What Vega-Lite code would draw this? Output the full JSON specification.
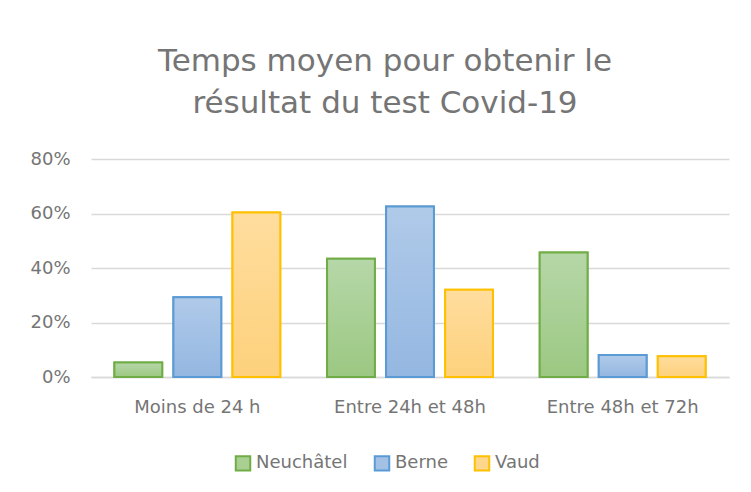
{
  "$schema": "https://vega.github.io/schema/vega-lite/v6.json",
  "autosize": {"type": "none"},
  "width": 638,
  "height": 218,
  "padding": {"left": 91, "top": 159, "right": 22, "bottom": 115},
  "background": "white",
  "title": {
    "text": ["Temps moyen pour obtenir le", "résultat du test Covid-19"],
    "anchor": "middle",
    "frame": "group",
    "dx": -25,
    "offset": 30,
    "font": "DejaVu Sans",
    "fontSize": 31,
    "fontWeight": "normal",
    "color": "#757575",
    "lineHeight": 42
  },
  "data": {
    "values": [
      {"cat": "Moins de 24 h", "canton": "Neuchâtel", "v": 0.053},
      {"cat": "Moins de 24 h", "canton": "Berne", "v": 0.293},
      {"cat": "Moins de 24 h", "canton": "Vaud", "v": 0.604},
      {"cat": "Entre 24h et 48h", "canton": "Neuchâtel", "v": 0.434},
      {"cat": "Entre 24h et 48h", "canton": "Berne", "v": 0.626},
      {"cat": "Entre 24h et 48h", "canton": "Vaud", "v": 0.320},
      {"cat": "Entre 48h et 72h", "canton": "Neuchâtel", "v": 0.457},
      {"cat": "Entre 48h et 72h", "canton": "Berne", "v": 0.081},
      {"cat": "Entre 48h et 72h", "canton": "Vaud", "v": 0.076}
    ]
  },
  "encoding": {
    "x": {
      "field": "cat",
      "type": "nominal",
      "sort": null,
      "scale": {"paddingInner": 0.22, "paddingOuter": 0.11},
      "axis": {
        "title": null,
        "labelAngle": 0,
        "labelFont": "DejaVu Sans",
        "labelFontSize": 18,
        "labelColor": "#757575",
        "labelPadding": 21,
        "ticks": false,
        "domainColor": "#d9d9d9",
        "domainWidth": 1.5
      }
    },
    "xOffset": {
      "field": "canton",
      "type": "nominal",
      "sort": ["Neuchâtel", "Berne", "Vaud"],
      "scale": {"paddingInner": 0.19}
    },
    "y": {
      "field": "v",
      "type": "quantitative",
      "scale": {"domain": [0, 0.8]},
      "axis": {
        "title": null,
        "values": [0, 0.2, 0.4, 0.6, 0.8],
        "format": ".0%",
        "labelFont": "DejaVu Sans",
        "labelFontSize": 18,
        "labelColor": "#757575",
        "labelPadding": 21,
        "ticks": false,
        "domain": false,
        "gridColor": "#d9d9d9",
        "gridWidth": 1.5
      }
    }
  },
  "layer": [
    {
      "mark": {"type": "bar", "strokeWidth": 2},
      "encoding": {
        "fill": {
          "field": "canton",
          "type": "nominal",
          "sort": ["Neuchâtel", "Berne", "Vaud"],
          "scale": {"domain": ["Neuchâtel", "Berne", "Vaud"], "range": ["#A9CF93", "#A3C1E5", "#FED68C"]},
          "legend": {
            "title": null,
            "orient": "none",
            "direction": "horizontal",
            "legendX": 143,
            "legendY": 295,
            "symbolType": "square",
            "symbolSize": 210,
            "symbolStrokeWidth": 2,
            "labelFont": "DejaVu Sans",
            "labelFontSize": 18,
            "labelColor": "#757575",
            "labelOffset": 4,
            "columnPadding": 22
          }
        },
        "stroke": {
          "field": "canton",
          "type": "nominal",
          "sort": ["Neuchâtel", "Berne", "Vaud"],
          "scale": {"domain": ["Neuchâtel", "Berne", "Vaud"], "range": ["#70AD47", "#5B9BD5", "#FFC000"]}
        }
      }
    },
    {
      "mark": {"type": "bar", "strokeWidth": 2},
      "encoding": {
        "fill": {
          "condition": [
            {"test": "datum.canton === 'Neuchâtel'", "value": {"gradient": "linear", "x1": 0, "y1": 0, "x2": 0, "y2": 1, "stops": [{"offset": 0, "color": "#B6D7A8"}, {"offset": 1, "color": "#9BC882"}]}},
            {"test": "datum.canton === 'Berne'", "value": {"gradient": "linear", "x1": 0, "y1": 0, "x2": 0, "y2": 1, "stops": [{"offset": 0, "color": "#B0CAE9"}, {"offset": 1, "color": "#94B7E1"}]}}
          ],
          "value": {"gradient": "linear", "x1": 0, "y1": 0, "x2": 0, "y2": 1, "stops": [{"offset": 0, "color": "#FFDD9E"}, {"offset": 1, "color": "#FDD17C"}]}
        },
        "stroke": {
          "condition": [
            {"test": "datum.canton === 'Neuchâtel'", "value": "#70AD47"},
            {"test": "datum.canton === 'Berne'", "value": "#5B9BD5"}
          ],
          "value": "#FFC000"
        }
      }
    }
  ],
  "config": {
    "view": {"stroke": null},
    "axis": {"gridColor": "#d9d9d9"}
  }
}
